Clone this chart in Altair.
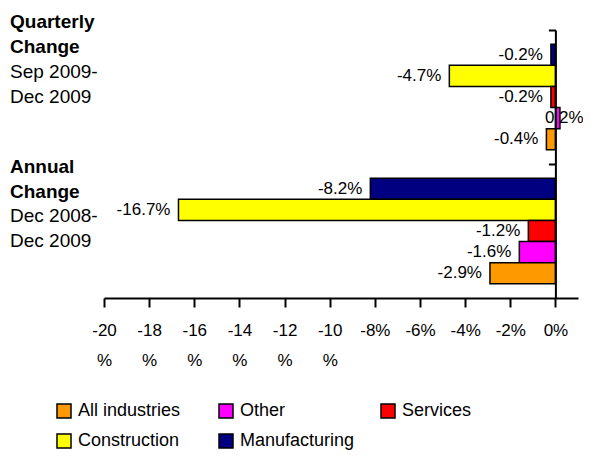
import altair as alt
import pandas as pd

groups = ["Quarterly", "Annual"]
series = ["Manufacturing", "Construction", "Services", "Other", "All industries"]
quarterly_values = [-0.2, -4.7, -0.2, 0.2, -0.4]
annual_values = [-8.2, -16.7, -1.2, -1.6, -2.9]
legend_order = ["All industries", "Other", "Services", "Construction", "Manufacturing"]
legend_colors = ["#FF9900", "#FF00FF", "#FF0000", "#FFFF00", "#000080"]
x_ticks = [-20, -18, -16, -14, -12, -10, -8, -6, -4, -2, 0]
group_titles = ["Quarterly\nChange", "Annual\nChange"]
group_periods = ["Sep 2009-\nDec 2009", "Dec 2008-\nDec 2009"]

FONT = "Liberation Sans"

rows = []
for g, vals in zip(groups, [quarterly_values, annual_values]):
    for s, v in zip(series, vals):
        rows.append({"group": g, "series": s, "value": v})
df = pd.DataFrame(rows)

labels_df = pd.DataFrame({"group": groups, "title": group_titles, "period": group_periods})

y_scale = alt.Scale(domain=groups, paddingInner=0, paddingOuter=0)
yoff_scale = alt.Scale(domain=series, paddingInner=0, paddingOuter=0.67)
x_scale = alt.Scale(domain=[-20, 1], nice=False, zero=False)

x_axis = alt.Axis(
    values=x_ticks, title=None, grid=False,
    domainColor="black", domainWidth=2, tickColor="black", tickWidth=2, tickSize=9,
    labelExpr="datum.value <= -10 ? ['' + datum.value, '%'] : '' + datum.value + '%'",
    labelFont=FONT, labelFontSize=17, labelColor="black", labelPadding=15,
    labelLineHeight=30, labelFlush=False, labelOverlap=False,
)
y_axis = alt.Axis(
    title=None, labels=False, grid=False, domain=True, domainColor="black", domainWidth=2,
    ticks=True, tickColor="black", tickWidth=2, tickSize=7, bandPosition=0,
    offset=-451.4, zindex=1,
)

base = alt.Chart(df)

bars = base.mark_bar(stroke="black", strokeWidth=1.5).encode(
    x=alt.X("value:Q", scale=x_scale, axis=x_axis),
    x2=alt.datum(0),
    y=alt.Y("group:N", scale=y_scale, axis=y_axis),
    yOffset=alt.YOffset("series:N", scale=yoff_scale),
    color=alt.Color(
        "series:N",
        scale=alt.Scale(domain=legend_order, range=legend_colors),
        legend=alt.Legend(
            title=None, orient="none", legendX=-49, legendY=372, columns=3,
            direction="horizontal",
            gridAlign="all", columnPadding=23, rowPadding=10,
            symbolType="square", symbolSize=196, symbolStrokeColor="black",
            symbolStrokeWidth=1.5, symbolOpacity=1,
            labelFont=FONT, labelFontSize=18, labelColor="black", labelOffset=5,
        ),
    ),
)

val_base = base.transform_calculate(
    label="replace(format(datum.value, '.1f'), '\u2212', '-') + '%'"
)
neg_text = val_base.transform_filter("datum.value < 0").mark_text(
    align="right", baseline="middle", dx=-8, font=FONT, fontSize=17, color="black"
).encode(
    x=alt.X("value:Q", scale=x_scale),
    y=alt.Y("group:N", scale=y_scale),
    yOffset=alt.YOffset("series:N", scale=yoff_scale),
    text="label:N",
)
pos_text = val_base.transform_filter("datum.value >= 0").mark_text(
    align="left", baseline="middle", dx=-15, font=FONT, fontSize=17, color="black"
).encode(
    x=alt.X("value:Q", scale=x_scale),
    y=alt.Y("group:N", scale=y_scale),
    yOffset=alt.YOffset("series:N", scale=yoff_scale),
    text="label:N",
)

label_layers = []
offsets = {"Quarterly": (-69, -19), "Annual": (-58, -9)}
for g in groups:
    dy_title, dy_period = offsets[g]
    lb = alt.Chart(labels_df).transform_filter(alt.datum.group == g)
    label_layers.append(
        lb.mark_text(align="left", baseline="alphabetic", dy=dy_title, lineBreak="\n",
                     lineHeight=25, font=FONT, fontSize=19, fontWeight="bold", color="black")
        .encode(x=alt.value(-94), y=alt.Y("group:N", scale=y_scale), text="title:N")
    )
    label_layers.append(
        lb.mark_text(align="left", baseline="alphabetic", dy=dy_period, lineBreak="\n",
                     lineHeight=25, font=FONT, fontSize=19, color="black")
        .encode(x=alt.value(-94), y=alt.Y("group:N", scale=y_scale), text="period:N")
    )

chart = alt.layer(neg_text, pos_text, bars, *label_layers).properties(
    width=474, height=268,
    autosize=alt.AutoSizeParams(type="none"),
    padding={"left": 96, "top": 22, "right": 5, "bottom": 154},
    background="white",
).configure_view(stroke=None)

chart.save("out.html", embed_options={"renderer": "svg", "actions": False})
